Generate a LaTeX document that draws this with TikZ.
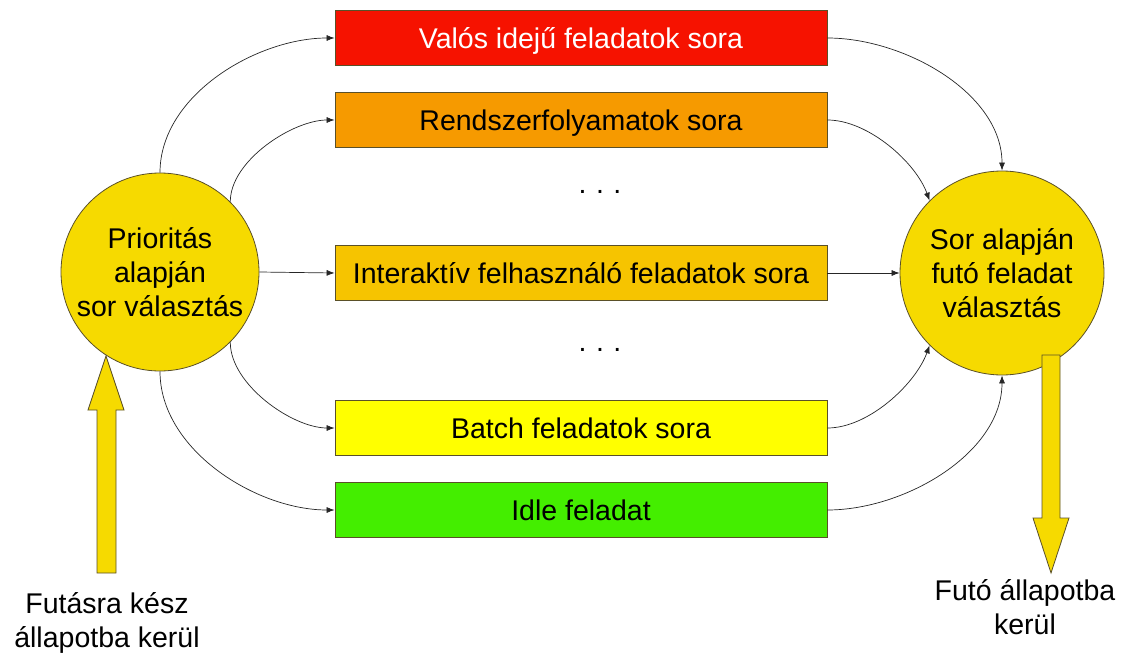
\documentclass[tikz,border=0pt]{standalone}
\usepackage{fontspec}
\setmainfont{Liberation Sans}
\usetikzlibrary{arrows.meta}
\definecolor{cgold}{RGB}{246,218,0}
\definecolor{cred}{RGB}{246,18,0}
\definecolor{corange}{RGB}{246,154,0}
\definecolor{cinter}{RGB}{246,196,0}
\definecolor{cbatch}{RGB}{255,255,0}
\definecolor{cidle}{RGB}{68,238,0}
\definecolor{cedge}{RGB}{90,80,40}
\tikzset{
  txt/.style={font=\fontsize{28.5}{34}\selectfont},
  queue/.style={draw=cedge, line width=0.8pt, minimum width=492pt, minimum height=55pt, inner sep=0pt, text height=20.5pt, text depth=0pt, txt},
  selector/.style={circle, draw=cedge, line width=0.8pt, fill=cgold, minimum size=200pt, inner sep=0pt, align=center, txt},
  conn/.style={draw=black!85, line width=0.7pt, -{Latex[length=8pt,width=6pt]}},
  bigarrow/.style={draw=cedge, line width=0.8pt, fill=cgold},
}
\begin{document}
\begin{tikzpicture}[x=1pt,y=-1pt]
\useasboundingbox (0,0) rectangle (1123,655);
% queues
\node[queue, fill=cred, text=white] (q1) at (581,38) {Valós idejű feladatok sora};
\node[queue, fill=corange] (q2) at (581,120) {Rendszerfolyamatok sora};
\node[txt] (d1) at (600,192) {.\,\,.\,\,.};
\node[queue, fill=cinter] (q3) at (581,273) {Interaktív felhasználó feladatok sora};
\node[txt] (d2) at (600,350) {.\,\,.\,\,.};
\node[queue, fill=cbatch] (q4) at (581,428) {Batch feladatok sora};
\node[queue, fill=cidle] (q5) at (581,510) {Idle feladat};
% selectors
\node[selector, minimum size=198pt] (L) at (160,272) {Prioritás\\alapján\\sor választás};
\node[selector, minimum size=204pt] (R) at (1002,273) {Sor alapján\\futó feladat\\választás};
% left connectors
\draw[conn] (L.90) to[out=90,in=180,looseness=0.9] (q1.west);
\draw[conn] (L.45) to[out=90,in=180,looseness=0.8] (q2.west);
\draw[conn] (L.0) -- (q3.west);
\draw[conn] (L.-45) to[out=-90,in=180,looseness=0.8] (q4.west);
\draw[conn] (L.-90) to[out=-90,in=180,looseness=0.9] (q5.west);
% right connectors
\draw[conn] (q1.east) to[out=0,in=90,looseness=0.9] (R.90);
\draw[conn] (q2.east) to[out=0,in=110,looseness=0.8] (R.135);
\draw[conn] (q3.east) -- (R.180);
\draw[conn] (q4.east) to[out=0,in=-110,looseness=0.8] (R.-135);
\draw[conn] (q5.east) to[out=0,in=-90,looseness=0.9] (R.-90);
% block arrows
\draw[bigarrow] (97,573) -- (97,410) -- (88,410) -- (106,356) -- (124,410) -- (116,410) -- (116,573) -- cycle;
\draw[bigarrow] (1042,355) -- (1060,355) -- (1060,518) -- (1069,518) -- (1051,573) -- (1033,518) -- (1042,518) -- cycle;
% labels
\node[txt, align=center] (lin) at (107,623) {Futásra kész\\állapotba kerül};
\node[txt, align=center] (lout) at (1025,607) {Futó állapotba\\kerül};
\end{tikzpicture}
\end{document}
